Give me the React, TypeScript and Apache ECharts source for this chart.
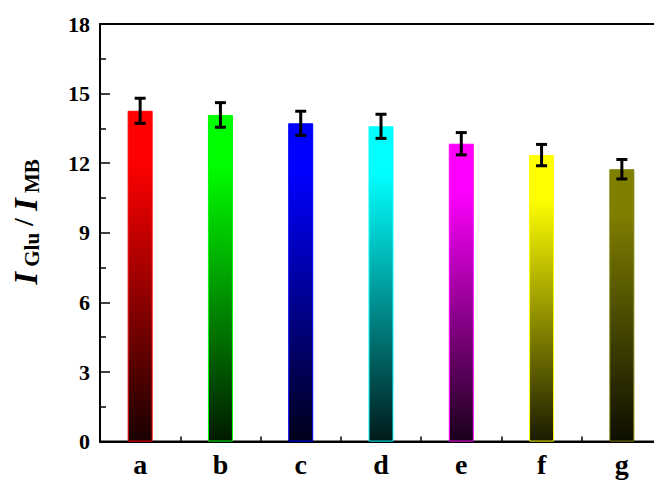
import React, { useEffect, useRef } from "react";
import * as echarts from "echarts";

// Sample labels along the x axis
const categories = ["a", "b", "c", "d", "e", "f", "g"];
// Mean intensity ratio for each sample
const ratioValues = [14.26, 14.08, 13.72, 13.59, 12.84, 12.35, 11.74];
// Standard deviation for each sample
const ratioErrors = [0.54, 0.53, 0.52, 0.52, 0.48, 0.46, 0.42];
// Y axis range and step
const yMin = 0;
const yMax = 18;
const yStep = 3;

const barColors = ["#ff0000", "#00ff00", "#0000ff", "#00ffff", "#ff00ff", "#ffff00", "#808000"];

const SERIF = "'Liberation Serif', 'Times New Roman', serif";

function darken(hex: string, k: number): string {
  const n = parseInt(hex.slice(1), 16);
  const r = Math.round(((n >> 16) & 255) * k);
  const g = Math.round(((n >> 8) & 255) * k);
  const b = Math.round((n & 255) * k);
  return `rgb(${r},${g},${b})`;
}

// Colour at the top fading to near-black at the base
function shade(hex: string) {
  return new echarts.graphic.LinearGradient(0, 0, 0, 1, [
    { offset: 0, color: hex },
    { offset: 0.15, color: hex },
    { offset: 1, color: darken(hex, 0.1) },
  ]);
}

export default function App() {
  const ref = useRef<HTMLDivElement>(null);

  useEffect(() => {
    if (!ref.current) return;
    const chart = echarts.init(ref.current, null, { renderer: "svg" });

    // The frame runs on past the right edge of the window
    const gridBox = { left: 100, top: 24, width: 562, height: 417.6 };

    chart.setOption({
      animation: false,
      backgroundColor: "#ffffff",
      grid: {
        ...gridBox,
        show: true,
        borderColor: "#000",
        borderWidth: 2,
        backgroundColor: "transparent",
      },
      xAxis: [
        {
          type: "category",
          data: categories,
          position: "bottom",
          axisLine: { show: true, lineStyle: { color: "#000", width: 2 } },
          axisTick: { show: true, inside: true, alignWithLabel: true, length: 5, lineStyle: { color: "#000", width: 1.5 } },
          axisLabel: {
            color: "#000",
            fontFamily: SERIF,
            fontWeight: "bold",
            fontSize: 28,
            margin: 9,
          },
          splitLine: { show: false },
        },
        {
          type: "category",
          data: categories,
          position: "bottom",
          axisLine: { show: false },
          axisTick: { show: true, inside: true, alignWithLabel: false, length: 5, lineStyle: { color: "#000", width: 1.5 } },
          axisLabel: { show: false },
          splitLine: { show: false },
        },
      ],
      yAxis: {
        type: "value",
        min: yMin,
        max: yMax,
        interval: yStep,
        axisLine: { show: true, lineStyle: { color: "#000", width: 2 } },
        axisTick: { show: true, inside: true, length: 10, lineStyle: { color: "#000", width: 1.5 } },
        minorTick: { show: true, splitNumber: 2, length: 6, lineStyle: { color: "#000", width: 1.5 } },
        axisLabel: {
          color: "#000",
          fontFamily: SERIF,
          fontWeight: "bold",
          fontSize: 22,
          margin: 10,
        },
        splitLine: { show: false },
      },
      graphic: [
        {
          type: "text",
          x: 26,
          y: 222,
          rotation: Math.PI / 2,
          style: {
            text: "{i|I}{sub| Glu}{sl| / }{i|I}{sub| MB}",
            align: "center",
            verticalAlign: "middle",
            rich: {
              i: {
                fontFamily: SERIF,
                fontStyle: "italic",
                fontWeight: "bold",
                fontSize: 33,
                lineHeight: 33,
                verticalAlign: "top",
                fill: "#000",
              },
              sub: {
                fontFamily: SERIF,
                fontWeight: "bold",
                fontSize: 21,
                lineHeight: 21,
                verticalAlign: "bottom",
                fill: "#000",
              },
              sl: {
                fontFamily: SERIF,
                fontWeight: "bold",
                fontSize: 28,
                lineHeight: 33,
                verticalAlign: "top",
                fill: "#000",
              },
            },
          },
        },
      ],
      series: [
        {
          type: "bar",
          xAxisIndex: 0,
          barWidth: 25,
          data: ratioValues.map((v, i) => ({
            value: v,
            itemStyle: {
              color: shade(barColors[i]),
              borderColor: barColors[i],
              borderWidth: 1,
            },
          })),
        },
        {
          type: "custom",
          xAxisIndex: 0,
          z: 10,
          data: ratioValues.map((v, i) => [i, v - ratioErrors[i], v + ratioErrors[i]]),
          renderItem: (_params: any, api: any) => {
            const x = api.value(0);
            const lo = api.coord([x, api.value(1)]);
            const hi = api.coord([x, api.value(2)]);
            const half = 5.5;
            const style = { stroke: "#000", lineWidth: 3 };
            return {
              type: "group",
              children: [
                { type: "line", shape: { x1: lo[0], y1: lo[1], x2: hi[0], y2: hi[1] }, style },
                { type: "line", shape: { x1: hi[0] - half, y1: hi[1], x2: hi[0] + half, y2: hi[1] }, style },
                { type: "line", shape: { x1: lo[0] - half, y1: lo[1], x2: lo[0] + half, y2: lo[1] }, style },
              ],
            };
          },
        },
      ],
    });

    return () => chart.dispose();
  }, []);

  return (
    <div
      ref={ref}
      style={{ position: "fixed", left: 0, top: 0, width: 680, height: 481, background: "#fff" }}
    />
  );
}
